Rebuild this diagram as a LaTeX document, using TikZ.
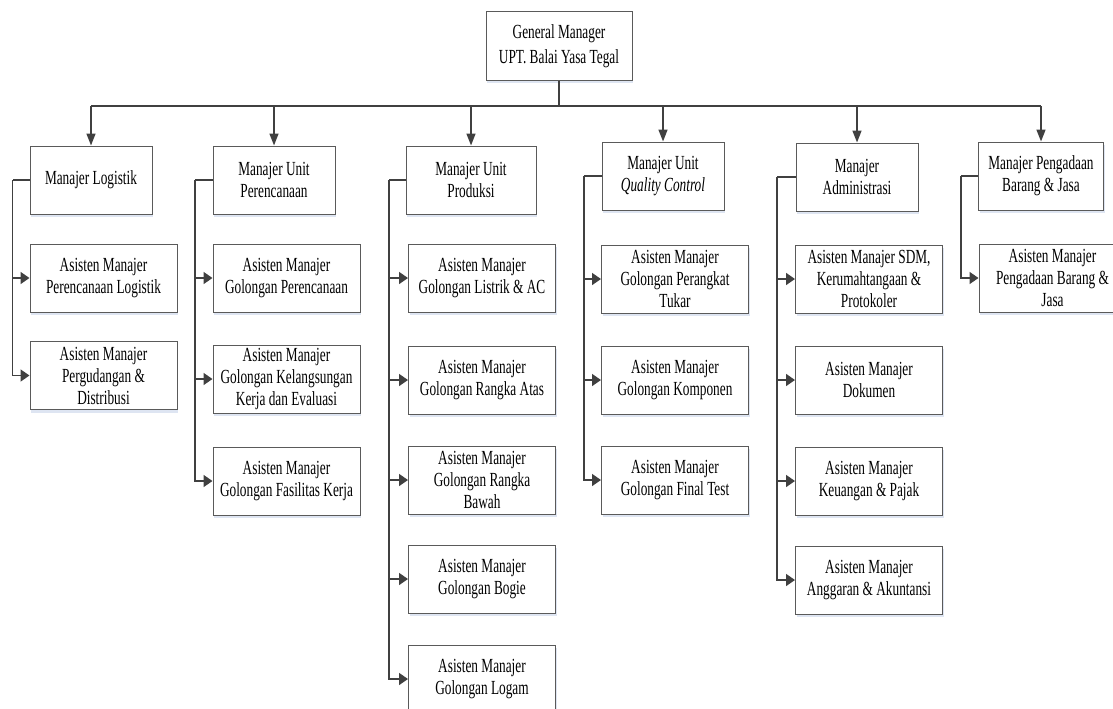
\documentclass[tikz,border=0pt]{standalone}
\usepackage{fontspec}
\setmainfont{Liberation Serif}[FakeStretch=0.665]
\usetikzlibrary{arrows.meta,shadows}
\definecolor{lnc}{HTML}{404040}
\definecolor{bdc}{HTML}{5A5A5A}
\definecolor{shc}{HTML}{C8D4EA}
\begin{document}
\begin{tikzpicture}[x=1pt,y=-1pt,
 box/.style={draw=bdc, line width=1pt, fill=white, align=center, inner sep=0pt,
   minimum height=68pt, font=\fontsize{20}{22}\selectfont,
   drop shadow={shadow xshift=1pt, shadow yshift=-3pt, fill=shc, opacity=0.6}},
 mgr/.style={box, minimum width=122pt},
 sub/.style={box, minimum width=147pt},
 conn/.style={draw=lnc, line width=1.6pt},
 harr/.style={conn, -{Triangle[length=9pt,width=12pt]}},
 varr/.style={conn, -{Triangle[length=12pt,width=9pt]}},
]
\useasboundingbox (0,0) rectangle (1113,709);

% top
\node[box, minimum width=146pt, font=\fontsize{20}{25}\selectfont] (gm) at (559,46) {General Manager\\UPT. Balai Yasa Tegal};

% managers
\node[mgr] (m1) at (91,180) {Manajer Logistik};
\node[mgr] (m2) at (274,180) {Manajer Unit\\Perencanaan};
\node[mgr, minimum width=130pt] (m3) at (471,180) {Manajer Unit\\Produksi};
\node[mgr] (m4) at (663,176) {Manajer Unit\\\textit{Quality Control}};
\node[mgr] (m5) at (857,177) {Manajer\\Administrasi};
\node[mgr, minimum width=125pt] (m6) at (1041,176) {Manajer Pengadaan\\Barang \& Jasa};

% bus
\coordinate (bus) at (559,106);
\draw[conn] (gm.south) -- (bus);
\draw[conn] (m1.north |- bus) -- (m6.north |- bus);
\foreach \m in {m1,m2,m3,m4,m5,m6}{
  \draw[varr] (\m.north |- bus) -- (\m.north);
}

% column 1
\node[sub] (c11) at (103.5,278) {Asisten Manajer\\Perencanaan Logistik};
\node[sub] (c12) at (103.5,375.5) {Asisten Manajer\\Pergudangan \&\\Distribusi};
% column 2
\node[sub] (c21) at (286.5,278) {Asisten Manajer\\Golongan Perencanaan};
\node[sub] (c22) at (286.5,379) {Asisten Manajer\\Golongan Kelangsungan\\Kerja dan Evaluasi};
\node[sub] (c23) at (286.5,481) {Asisten Manajer\\Golongan Fasilitas Kerja};
% column 3
\node[sub] (c31) at (482,278) {Asisten Manajer\\Golongan Listrik \& AC};
\node[sub] (c32) at (482,380) {Asisten Manajer\\Golongan Rangka Atas};
\node[sub] (c33) at (482,480) {Asisten Manajer\\Golongan Rangka\\Bawah};
\node[sub] (c34) at (482,579) {Asisten Manajer\\Golongan Bogie};
\node[sub] (c35) at (482,679) {Asisten Manajer\\Golongan Logam};
% column 4
\node[sub] (c41) at (675,279) {Asisten Manajer\\Golongan Perangkat\\Tukar};
\node[sub] (c42) at (675,380) {Asisten Manajer\\Golongan Komponen};
\node[sub] (c43) at (675,480) {Asisten Manajer\\Golongan Final Test};
% column 5
\node[sub] (c51) at (869,279) {Asisten Manajer SDM,\\Kerumahtangaan \&\\Protokoler};
\node[sub] (c52) at (869,380) {Asisten Manajer\\Dokumen};
\node[sub] (c53) at (869,481) {Asisten Manajer\\Keuangan \& Pajak};
\node[sub] (c54) at (869,580) {Asisten Manajer\\Anggaran \& Akuntansi};
% column 6
\node[sub] (c61) at (1052.5,278) {Asisten Manajer\\Pengadaan Barang \&\\Jasa};

% column connectors
\coordinate (k1) at (12.5,180);
\coordinate (k2) at (195,180);
\coordinate (k3) at (389,180);
\coordinate (k4) at (584,176);
\coordinate (k5) at (777,177);
\coordinate (k6) at (961,176);

\draw[conn] (m1.west) -- (k1);
\draw[conn] (m2.west) -- (k2);
\draw[conn] (m3.west) -- (k3);
\draw[conn] (m4.west) -- (k4);
\draw[conn] (m5.west) -- (k5);
\draw[conn] (m6.west) -- (k6);

\foreach \k/\c in {k1/c11,k1/c12,k2/c21,k2/c22,k2/c23,k3/c31,k3/c32,k3/c33,k3/c34,k3/c35,k4/c41,k4/c42,k4/c43,k5/c51,k5/c52,k5/c53,k5/c54,k6/c61}{
  \draw[harr] (\k) |- (\c.west);
}
\end{tikzpicture}
\end{document}
